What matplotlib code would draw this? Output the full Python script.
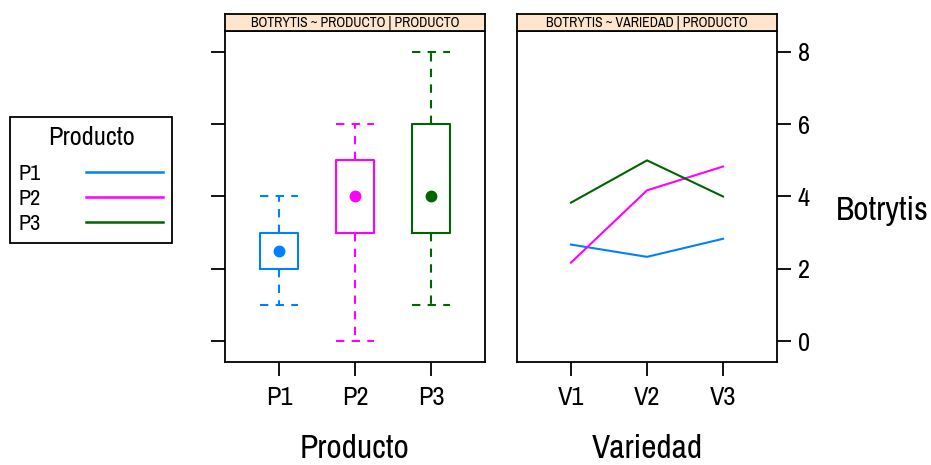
import matplotlib
matplotlib.use("Agg")
import matplotlib.pyplot as plt
from matplotlib.lines import Line2D

plt.rcParams['font.family'] = ['Archivo Narrow', 'Liberation Sans', 'DejaVu Sans']

# ---- data ----
productos = ['P1', 'P2', 'P3']
variedades = ['V1', 'V2', 'V3']
colors = ['#0080ff', '#ff00ff', '#006400']
box_q1 = [2, 3, 3]
box_med = [2.5, 4, 4]
box_q3 = [3, 5, 6]
whis_lo = [1, 0, 1]
whis_hi = [4, 6, 8]
mean_p1 = [2.67, 2.33, 2.83]
mean_p2 = [2.17, 4.17, 4.83]
mean_p3 = [3.83, 5.0, 4.0]
yticks = [0, 2, 4, 6, 8]
strip_left = 'BOTRYTIS ~ PRODUCTO | PRODUCTO'
strip_right = 'BOTRYTIS ~ VARIEDAD | PRODUCTO'

W, H = 931, 465
fig = plt.figure(figsize=(W / 100, H / 100), dpi=100)

def rect(x0, y0, x1, y1):
    return [x0 / W, 1 - y1 / H, (x1 - x0) / W, (y1 - y0) / H]

TICK_FS = 19
LAB_FS = 24
ylim = (-0.58, 8.58)
xlim = (0.29, 3.71)

axL = fig.add_axes(rect(225, 31, 485, 362))
axR = fig.add_axes(rect(517, 31, 777, 362))

for ax in (axL, axR):
    ax.set_xlim(*xlim)
    ax.set_ylim(*ylim)
    for s in ax.spines.values():
        s.set_linewidth(1.3)
    ax.set_yticks(yticks)
    ax.tick_params(axis='both', length=10, width=1.3, labelsize=TICK_FS, pad=5)
    ax.tick_params(axis='x', pad=7)
    ax.set_xticks([1, 2, 3])

# left panel: boxplots
axL.set_xticklabels(productos)
axL.tick_params(axis='y', left=True, right=False, labelleft=False)
dash = (0, (4, 3.5))
for i in range(3):
    st = [dict(med=box_med[i], q1=box_q1[i], q3=box_q3[i],
               whislo=whis_lo[i], whishi=whis_hi[i], fliers=[])]
    c = colors[i]
    axL.bxp(st, positions=[i + 1], widths=0.5, capwidths=0.5,
            boxprops=dict(color=c, linewidth=1.5),
            whiskerprops=dict(color=c, linewidth=1.5, linestyle=dash),
            capprops=dict(color=c, linewidth=1.5, linestyle=dash),
            medianprops=dict(linewidth=0), showfliers=False, manage_ticks=False)
    axL.plot([i + 1], [box_med[i]], 'o', color=c, markersize=7.5, zorder=5)

# right panel: lines
axR.set_xticklabels(variedades)
axR.tick_params(axis='y', left=False, right=True, labelleft=False, labelright=True)
for vals, c in zip([mean_p1, mean_p2, mean_p3], colors):
    axR.plot([1, 2, 3], vals, color=c, linewidth=1.5)

# strips
for x0, x1, txt in [(225, 485, strip_left), (517, 777, strip_right)]:
    sa = fig.add_axes(rect(x0, 14, x1, 31))
    sa.set_facecolor('#ffe5cc')
    sa.set_xticks([]); sa.set_yticks([])
    for s in sa.spines.values():
        s.set_linewidth(1.3)
    sa.text(0.5, 0.45, txt, ha='center', va='center', fontsize=10,
            transform=sa.transAxes)

# axis labels
fig.text(355 / W, 1 - 449 / H, 'Producto', ha='center', va='center', fontsize=LAB_FS)
fig.text(647 / W, 1 - 449 / H, 'Variedad', ha='center', va='center', fontsize=LAB_FS)
fig.text(836 / W, 1 - 211 / H, 'Botrytis', ha='left', va='center', fontsize=LAB_FS)

# legend
handles = [Line2D([], [], color=c, linewidth=1.8) for c in colors]
leg = fig.legend(handles, productos, title='Producto', loc='upper left',
                 bbox_to_anchor=(10 / W, 1 - 117 / H), borderaxespad=0,
                 markerfirst=False,
                 fontsize=16, title_fontsize=19, handlelength=3.5,
                 handletextpad=2.0, labelspacing=0.22, borderpad=0.4,
                 fancybox=False, edgecolor='black', framealpha=1)
leg.get_frame().set_linewidth(1.3)
leg._legend_box.align = 'center'
leg._legend_box.sep = 11

fig.savefig('out.png', dpi=100)
